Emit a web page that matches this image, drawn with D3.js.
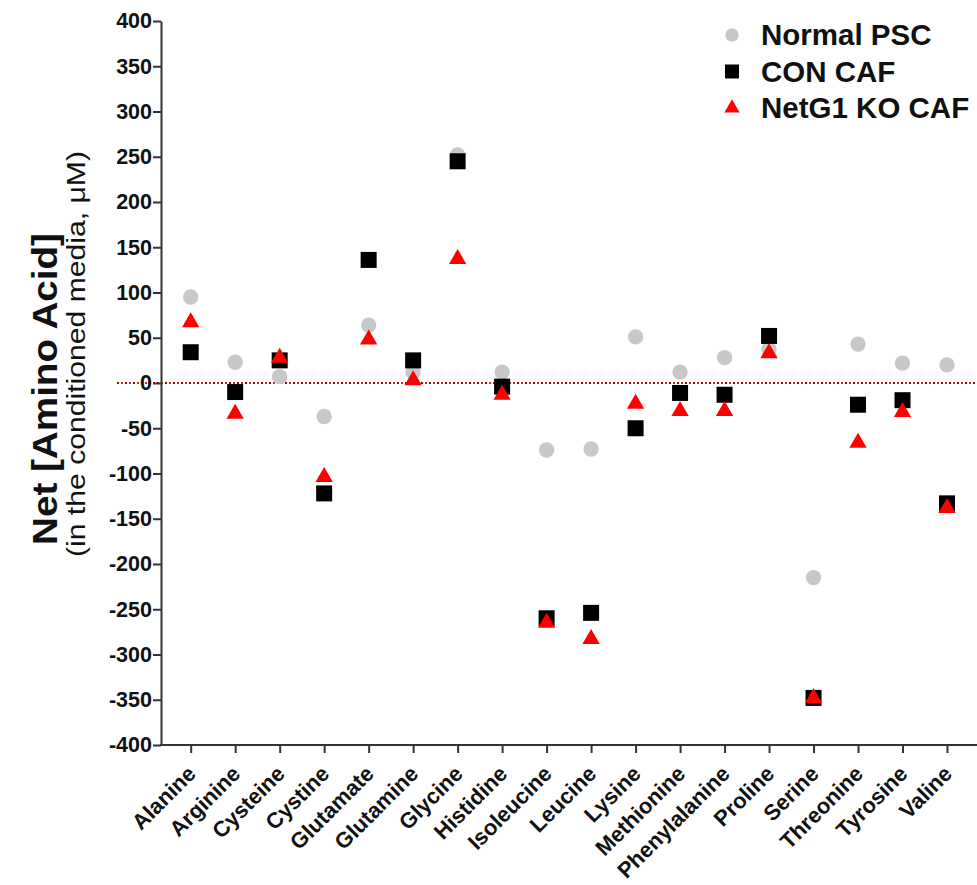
<!DOCTYPE html>
<html>
<head>
<meta charset="utf-8">
<script src="https://cdn.jsdelivr.net/npm/d3@7"></script>
<style>
  html, body { margin: 0; padding: 0; background: #fff; }
  svg { display: block; font-family: "Liberation Sans", Arial, sans-serif; }
</style>
</head>
<body>
<svg id="chart" width="977" height="885"></svg>
<script>
const categories = ["Alanine","Arginine","Cysteine","Cystine","Glutamate","Glutamine","Glycine","Histidine","Isoleucine","Leucine","Lysine","Methionine","Phenylalanine","Proline","Serine","Threonine","Tyrosine","Valine"];
const normalPSC = [95, 23, 7, -37, 64, 12, 252, 12, -74, -73, 51, 12, 28, 37, -215, 43, 22, 20];
const conCAF    = [34, -10, 25, -122, 136, 25, 245, -4, -260, -254, -50, -11, -13, 52, -348, -24, -19, -133];
const netg1KO   = [67, -34, 28, -104, 48, 3, 137, -13, -265, -283, -23, -31, -31, 33, -348, -66, -32, -138];
const yTicks = d3.range(-400, 401, 50);
const seriesNames = ["Normal PSC", "CON CAF", "NetG1 KO CAF"];

const svg = d3.select("#chart");
const x = d3.scalePoint().domain(categories).range([190.7, 947]);
const y = d3.scaleLinear().domain([-400, 400]).range([745, 21]);
const axisX0 = 161, axisXEnd = 977;

// zero reference line (red dotted with dark dots)
svg.append("line").attr("x1", 117).attr("x2", axisXEnd).attr("y1", y(0)).attr("y2", y(0))
  .attr("stroke", "#ff1a1a").attr("stroke-width", 2).attr("stroke-dasharray", "2,2");
svg.append("line").attr("x1", 117).attr("x2", axisXEnd).attr("y1", y(0)).attr("y2", y(0))
  .attr("stroke", "#222").attr("stroke-width", 2).attr("stroke-dasharray", "1.5,6.5");

// Y axis
const yAxis = svg.append("g").attr("transform", `translate(${axisX0},0)`)
  .call(d3.axisLeft(y).tickValues(yTicks).tickFormat(d => String(d)).tickSize(8).tickPadding(1).tickSizeOuter(0));
yAxis.select(".domain").attr("stroke", "#333").attr("stroke-width", 2);
yAxis.selectAll(".tick line").attr("stroke", "#333").attr("stroke-width", 2);
yAxis.selectAll(".tick text").attr("font-size", 21.5).attr("font-weight", "bold").attr("fill", "#111")
  .attr("font-family", "'Liberation Sans', Arial, sans-serif");

// X axis
const xAxis = svg.append("g").attr("transform", `translate(0,${y(-400)})`)
  .call(d3.axisBottom(x).tickSize(8).tickSizeOuter(0));
xAxis.select(".domain").remove();
xAxis.append("line").attr("x1", axisX0 - 1).attr("x2", axisXEnd).attr("stroke", "#333").attr("stroke-width", 2);
xAxis.selectAll(".tick line").attr("stroke", "#333").attr("stroke-width", 2);
xAxis.selectAll(".tick text")
  .attr("font-size", 22).attr("font-weight", "bold").attr("fill", "#111")
  .attr("font-family", "'Liberation Sans', Arial, sans-serif")
  .attr("text-anchor", "end").attr("dy", null).attr("y", null)
  .attr("transform", "translate(6,30) rotate(-45)");

// Y axis titles
svg.append("text").attr("transform", "translate(57,389) rotate(-90)")
  .attr("text-anchor", "middle").attr("font-size", 35).attr("font-weight", "bold").attr("fill", "#111")
  .attr("textLength", 312).attr("lengthAdjust", "spacingAndGlyphs")
  .text("Net [Amino Acid]");
svg.append("text").attr("transform", "translate(85,354) rotate(-90)")
  .attr("text-anchor", "middle").attr("font-size", 25).attr("fill", "#111")
  .attr("textLength", 406).attr("lengthAdjust", "spacingAndGlyphs")
  .text("(in the conditioned media, \u03BCM)");

// Markers
const circleSym = d3.symbol().type(d3.symbolCircle).size(Math.PI * 7.7 * 7.7);
const squareSym = d3.symbol().type(d3.symbolSquare).size(16 * 16);
const triSym = d3.symbol().type(d3.symbolTriangle).size(130);

const marks = svg.append("g");
marks.selectAll("path.psc").data(normalPSC).join("path").attr("class", "psc")
  .attr("d", circleSym).attr("fill", "#c8c8c8")
  .attr("transform", (d, i) => `translate(${x(categories[i])},${y(d)})`);
marks.selectAll("path.con").data(conCAF).join("path").attr("class", "con")
  .attr("d", squareSym).attr("fill", "#000")
  .attr("transform", (d, i) => `translate(${x(categories[i])},${y(d)})`);
marks.selectAll("path.ko").data(netg1KO).join("path").attr("class", "ko")
  .attr("d", triSym).attr("fill", "#ff0000")
  .attr("transform", (d, i) => `translate(${x(categories[i])},${y(d)})`);

// Legend
const legend = svg.append("g");
const legendSyms = [
  { sym: d3.symbol().type(d3.symbolCircle).size(Math.PI * 6.7 * 6.7), fill: "#c8c8c8" },
  { sym: d3.symbol().type(d3.symbolSquare).size(14 * 14), fill: "#000" },
  { sym: d3.symbol().type(d3.symbolTriangle).size(100), fill: "#ff0000" }
];
seriesNames.forEach((name, i) => {
  const cy = 35 + i * 36.5;
  legend.append("path").attr("d", legendSyms[i].sym).attr("fill", legendSyms[i].fill)
    .attr("transform", `translate(732,${cy})`);
  legend.append("text").attr("x", 761).attr("y", cy + 10)
    .attr("font-size", 29.5).attr("font-weight", "bold").attr("fill", "#111").text(name);
});
</script>
</body>
</html>
